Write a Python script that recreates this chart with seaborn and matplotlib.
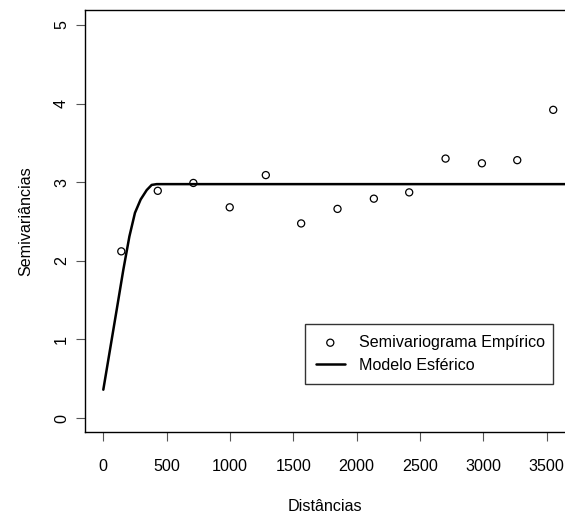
import matplotlib
matplotlib.use("Agg")
import matplotlib.pyplot as plt
import seaborn as sns
import pandas as pd

dist = [142, 430, 711, 998, 1283, 1562, 1849, 2136, 2415, 2702, 2989, 3268, 3552]
semivar = [2.12, 2.89, 2.99, 2.68, 3.09, 2.475, 2.66, 2.79, 2.87, 3.30, 3.24, 3.28, 3.92]

# Spherical model curve
model_x = [0, 53, 106, 158, 206, 250, 295, 343, 382, 422, 1000, 2000, 3000, 3800]
model_y = [0.36, 0.87, 1.38, 1.885, 2.31, 2.61, 2.78, 2.90, 2.965, 2.975, 2.975, 2.975, 2.975, 2.975]

x_ticks = [0, 500, 1000, 1500, 2000, 2500, 3000, 3500]
y_ticks = [0, 1, 2, 3, 4, 5]

sns.set_theme(style="white")
plt.rcParams['font.family'] = ['Liberation Sans', 'DejaVu Sans']
plt.rcParams['text.color'] = 'black'
plt.rcParams['axes.labelcolor'] = 'black'
plt.rcParams['xtick.labelcolor'] = 'black'
plt.rcParams['ytick.labelcolor'] = 'black'

fig = plt.figure(figsize=(5.65, 5.14), dpi=100)
ax = fig.add_axes([85/565, 1 - 432/514, 1 - 85/565, (432 - 10)/514])

emp = pd.DataFrame({"d": dist, "g": semivar})
mod = pd.DataFrame({"d": model_x, "g": model_y})

sns.lineplot(data=mod, x="d", y="g", sort=False, color="black", linewidth=1.8,
             ax=ax, label="Modelo Esférico")
sns.scatterplot(data=emp, x="d", y="g", marker="o", s=26, facecolor="none",
                edgecolor="black", linewidth=0.9, ax=ax, label="Semivariograma Empírico")

ax.set_xlim(-144.5, 3645)
ax.set_ylim(-0.178, 5.19)
ax.set_xticks(x_ticks)
ax.set_yticks(y_ticks)
ax.set_xticklabels([str(t) for t in x_ticks], fontsize=11.6)
ax.set_yticklabels([str(t) for t in y_ticks], fontsize=11.6, rotation=90, va="center")
ax.tick_params(axis="both", direction="out", length=6.5, width=0.8, color="#555555",
               left=True, bottom=True)
ax.tick_params(axis="x", pad=13)
ax.tick_params(axis="y", pad=5)
ax.set_xlabel("Distâncias", fontsize=11.6, labelpad=18)
ax.set_ylabel("Semivariâncias", fontsize=11.6, labelpad=15)
for side in ["left", "bottom", "top"]:
    ax.spines[side].set_visible(True)
    ax.spines[side].set_color("black")
    ax.spines[side].set_linewidth(1.0)
ax.spines["right"].set_visible(False)
ax.grid(False)

handles, labels = ax.get_legend_handles_labels()
order = [1, 0]
leg = ax.legend([handles[i] for i in order], [labels[i] for i in order],
                loc="upper left", bbox_to_anchor=(0.458, 0.256, 0.516, 0.0), mode="expand",
                fontsize=11.6, frameon=True, fancybox=False, edgecolor="black",
                handlelength=1.8, handletextpad=0.9, borderpad=0.68, labelspacing=0.48,
                borderaxespad=0)
leg.get_frame().set_linewidth(1.0)

fig.savefig("out.png", dpi=100)
